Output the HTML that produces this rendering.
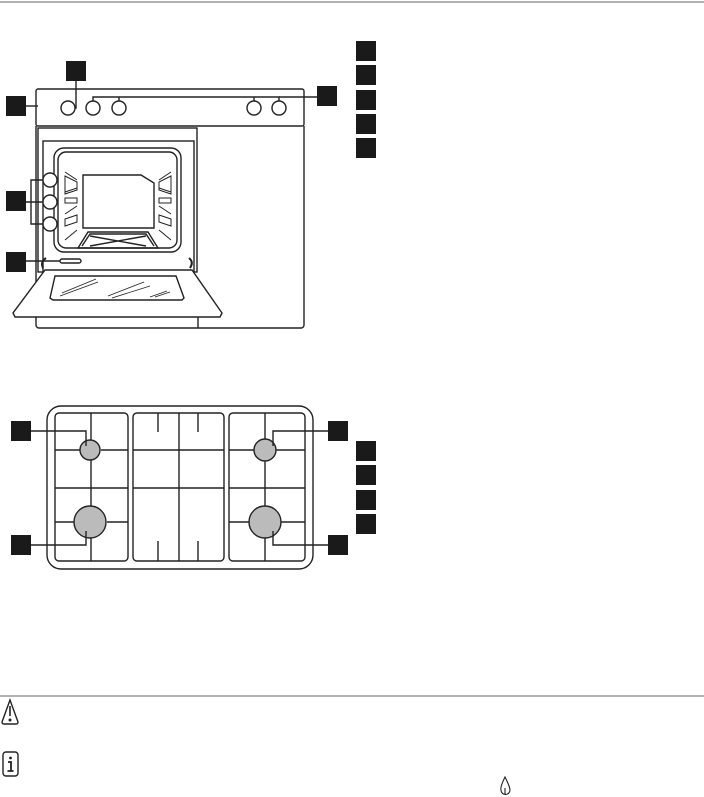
<!DOCTYPE html>
<html><head><meta charset="utf-8"><style>html,body{margin:0;padding:0;background:#fff;width:704px;height:797px;overflow:hidden}</style></head><body>
<svg width="704" height="797" viewBox="0 0 704 797" xmlns="http://www.w3.org/2000/svg" fill="none" stroke="#222" stroke-width="1.4">
<line x1="0" y1="2" x2="704" y2="2" stroke="#999" stroke-width="1.5"/>
<!-- oven -->
<rect x="36" y="89" width="268" height="37" rx="2"/>
<path d="M36 126 V325 a3 3 0 0 0 3 3 H301 a3 3 0 0 0 3 -3 V126"/>
<line x1="198" y1="317" x2="198" y2="328"/>
<g><circle cx="68" cy="108" r="7"/><circle cx="93" cy="108" r="7"/><circle cx="119" cy="108" r="7"/><circle cx="254" cy="108" r="7"/><circle cx="279" cy="108" r="7"/></g>
<polyline points="75,108 76,108 76,80"/>
<polyline points="93,101 93,97 279,97 279,101"/>
<line x1="119" y1="97" x2="119" y2="101"/><line x1="254" y1="97" x2="254" y2="101"/>
<line x1="279" y1="97" x2="317" y2="97"/>
<line x1="26" y1="106" x2="38" y2="106"/>
<rect x="38" y="128" width="159" height="144"/>
<rect x="43" y="141" width="151" height="131"/>
<rect x="54" y="148" width="127" height="104" rx="10"/>
<rect x="58" y="152" width="119" height="96" rx="8"/>
<path d="M83 175 H141 L154 183 V228 H83 Z"/>
<path d="M78 248 L88 232 H148 L158 248 Z"/>
<path d="M82 246 L90 234 H146 L154 246"/>
<path d="M90 236 L146 246 M146 236 L90 246"/>
<g stroke-width="1"><path d="M65 172 L77 180 M65 192 L77 188 M65 214 L77 206 M65 240 L77 230 M171 172 L159 180 M171 192 L159 188 M171 214 L159 206 M171 240 L159 230"/>
<path d="M65 176 L77 182 V190 L65 194 Z M65 198 H77 V203 H65 Z M65 219 L77 215 V222 L65 226 Z M171 176 L159 182 V190 L171 194 Z M171 198 H159 V203 H171 Z M171 219 L159 215 V222 L171 226 Z"/></g>
<circle cx="50" cy="180" r="7" fill="#fff"/><circle cx="50" cy="202" r="7" fill="#fff"/><circle cx="50" cy="224" r="7" fill="#fff"/>
<polyline points="43,180 31,180 31,224 43,224"/><line x1="26" y1="202" x2="43" y2="202"/>
<line x1="26" y1="261" x2="60" y2="261"/><rect x="60" y="259" width="21" height="4" rx="2"/>
<path d="M45 270 L13 313 L15 317 H220 L222 313 L192 270 Z" fill="#fff"/>
<path d="M55 276 L50 298 L53 300 H182 L184 298 L176 276 Z"/>
<g stroke-width="0.8"><path d="M62 293 L96 279 M60 296 L98 282 M108 296 L144 282 M112 298 L150 286 M150 297 L167 291 M155 297 L170 292"/></g>
<path d="M43 268 Q40 262 46 258 M190 268 Q194 262 189 258" stroke-width="2"/>
<g fill="#1a1a1a" stroke="none">
<rect x="66" y="61" width="20" height="20"/><rect x="6" y="96" width="20" height="20"/><rect x="317" y="86" width="20" height="20"/>
<rect x="6" y="191" width="20" height="20"/><rect x="6" y="252" width="20" height="20"/>
<rect x="356" y="41" width="20" height="20"/><rect x="356" y="65" width="20" height="20"/><rect x="356" y="90" width="20" height="20"/><rect x="356" y="114" width="20" height="20"/><rect x="356" y="138" width="20" height="20"/>
<rect x="356" y="441" width="20" height="20"/><rect x="356" y="465" width="20" height="20"/><rect x="356" y="490" width="20" height="20"/><rect x="356" y="514" width="20" height="20"/>
<rect x="11" y="421" width="20" height="20"/><rect x="328" y="421" width="20" height="20"/><rect x="11" y="535" width="20" height="20"/><rect x="328" y="535" width="20" height="20"/>
</g>
<!-- hob -->
<rect x="47" y="406" width="266" height="163" rx="14"/>
<rect x="55" y="413" width="73" height="148" rx="4"/>
<rect x="133" y="413" width="91" height="148" rx="4"/>
<rect x="229" y="413" width="76" height="148" rx="4"/>
<g stroke-width="1.4">
<path d="M91 413 V440 M91 460 V506 M91 538 V561 M55 450 H80 M101 450 H128 M55 488 H128 M55 522 H74 M107 522 H128"/>
<path d="M265 413 V439 M265 461 V506 M265 538 V561 M229 450 H254 M276 450 H305 M229 488 H305 M229 522 H249 M281 522 H305"/>
<path d="M179 413 V561 M133 450 H224 M133 488 H224 M158 413 V432 M198 413 V432 M158 541 V561 M198 541 V561"/>
</g>
<g fill="#bbb"><circle cx="90" cy="450" r="10"/><circle cx="265" cy="450" r="11"/><circle cx="90" cy="522" r="16"/><circle cx="265" cy="522" r="16"/></g>
<polyline points="31,431 86,431 86,446"/><polyline points="328,431 273,431 273,446"/>
<polyline points="31,545 86,545 86,531"/><polyline points="328,545 273,545 273,531"/>
<!-- bottom -->
<line x1="0" y1="696" x2="704" y2="696" stroke="#999" stroke-width="1.5"/>
<path d="M10 700 L2 722 Q2 724 4 724 H16 Q18 724 18 722 Z"/>
<line x1="10" y1="706" x2="10" y2="716" stroke-width="1.6"/><circle cx="10" cy="720" r="0.8" fill="#222"/>
<rect x="3" y="752" width="15" height="24" rx="3"/>
<circle cx="10.5" cy="758" r="1.4" fill="#222" stroke="none"/>
<path d="M8 762 H11 V771 M7.5 771 H13.5" stroke-width="1.8"/>
<path d="M505 777 Q500 787 501 790 A4.5 4.5 0 0 0 510 790 Q510 787 505 777 Z M505 788 V795" stroke-width="1.1"/>
</svg>
</body></html>
